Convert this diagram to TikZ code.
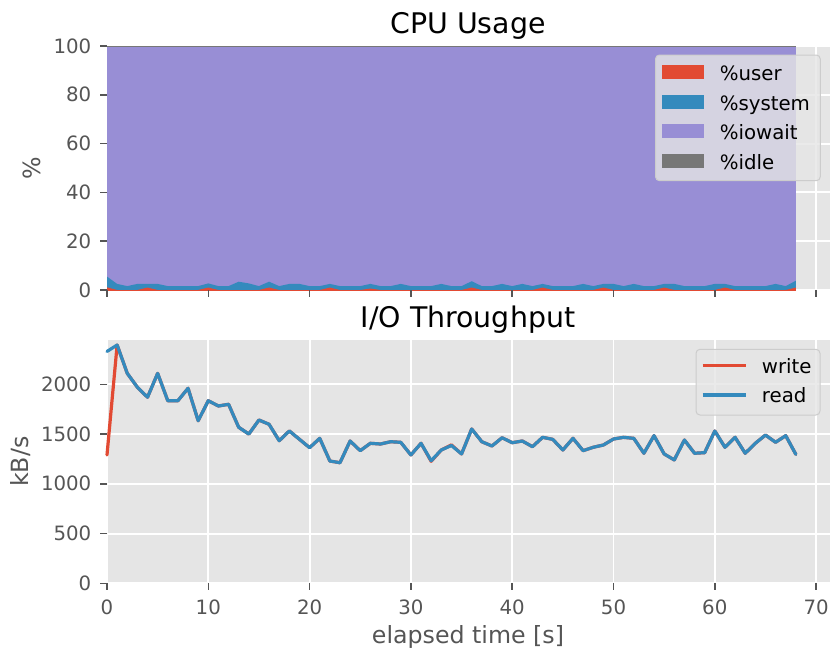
\documentclass[tikz,border=0pt]{standalone}
\usepackage{fontspec}
\setmainfont{DejaVu Sans}
\definecolor{panel}{HTML}{E5E5E5}
\definecolor{tickgray}{HTML}{555555}
\definecolor{cred}{HTML}{E24A33}
\definecolor{cblue}{HTML}{348ABD}
\definecolor{cpurple}{HTML}{988ED5}
\definecolor{cgray}{HTML}{777777}
\definecolor{legedge}{HTML}{CCCCCC}
\tikzset{
  ticklab/.style={font=\fontsize{19.75}{23}\selectfont, text=tickgray, inner sep=0pt},
  axlab/.style={font=\fontsize{23.7}{28}\selectfont, text=tickgray, inner sep=0pt},
  ttl/.style={font=\fontsize{28.4}{33}\selectfont, text=black, inner sep=0pt},
  legtext/.style={font=\fontsize{19.75}{23}\selectfont, text=black, inner sep=0pt, anchor=base west},
  tickmark/.style={draw=tickgray, line width=1.5pt},
  gridline/.style={draw=white, line width=1.9pt},
  legbox/.style={fill=panel, fill opacity=0.8, draw=legedge, line width=1pt, rounded corners=4pt},
  series/.style={line width=3.2pt, line join=round, line cap=round},
}
\begin{document}
\begin{tikzpicture}[x=1pt, y=-1pt]
\useasboundingbox (0,0) rectangle (830,651);

% ---------------- CPU usage panel ----------------
\begin{scope}[shift={(107pt,-290pt)}, x=10.13pt, y=2.44pt]
  \fill[panel] (0,0) rectangle (71.37,100);
  \foreach \x in {0,10,...,70} \draw[gridline] (\x,0) -- (\x,100);
  \foreach \v in {0,20,...,100} \draw[gridline] (0,\v) -- (71.37,\v);
  % stacked areas: %iowait fills up to 100
  \fill[cpurple] (0,0) rectangle (68,100);
  \draw[cgray, line width=0.8pt] (0,100) -- (68,100);
  % %system (cumulative top = user + system)
  \fill[cblue] (0,0) -- (0,5.5) -- (1,2.5) -- (2,1.6) -- (3,2.5) -- (4,2.5) -- (5,2.5)
    -- (6,1.6) -- (7,1.6) -- (8,1.6) -- (9,1.6) -- (10,2.7) -- (11,1.6) -- (12,1.6)
    -- (13,3.4) -- (14,2.7) -- (15,1.6) -- (16,3.4) -- (17,1.6) -- (18,2.5) -- (19,2.5)
    -- (20,1.6) -- (21,1.6) -- (22,2.5) -- (23,1.6) -- (24,1.6) -- (25,1.6) -- (26,2.5)
    -- (27,1.6) -- (28,1.6) -- (29,2.5) -- (30,1.6) -- (31,1.6) -- (32,1.6) -- (33,2.5)
    -- (34,1.6) -- (35,1.6) -- (36,3.6) -- (37,1.6) -- (38,1.6) -- (39,2.5) -- (40,1.6)
    -- (41,2.5) -- (42,1.6) -- (43,2.5) -- (44,1.6) -- (45,1.6) -- (46,1.6) -- (47,2.5)
    -- (48,1.6) -- (49,2.5) -- (50,2.5) -- (51,1.6) -- (52,2.5) -- (53,1.6) -- (54,1.6)
    -- (55,2.5) -- (56,2.5) -- (57,1.6) -- (58,1.6) -- (59,1.6) -- (60,2.5) -- (61,2.5)
    -- (62,1.6) -- (63,1.6) -- (64,1.6) -- (65,1.6) -- (66,2.5) -- (67,1.6) -- (68,3.8)
    -- (68,0) -- cycle;
  % %user
  \fill[cred] (0,0) -- (0,1.1) -- (1,0) -- (3,0) -- (4,1) -- (5,0) -- (9,0) -- (10,1)
    -- (11,0) -- (15,0) -- (16,1) -- (17,0) -- (21,0) -- (22,1) -- (23,0) -- (25,0)
    -- (26,0.6) -- (27,0) -- (35,0) -- (36,1) -- (37,0) -- (42,0) -- (43,1) -- (44,0)
    -- (48,0) -- (49,1) -- (50,0) -- (54,0) -- (55,1) -- (56,0) -- (60,0) -- (61,1)
    -- (62,0) -- (67,0) -- (68,1) -- (68,0) -- cycle;
  \draw[cred, line width=0.8pt] (0,0) -- (68,0);
  % ticks and labels
  \foreach \v in {0,20,...,100} {
    \draw[tickmark] (0,\v) -- ++(-7pt,0);
    \node[ticklab, anchor=east] (cpuy\v) at ([xshift=-15.5pt]0,\v) {\v};
  }
  \foreach \x in {0,10,...,70} \draw[tickmark] (\x,0) -- ++(0,-7pt);
\end{scope}
\node[axlab, rotate=90] (cpulabel) at (31.5,168) {\%};
\node[ttl, anchor=base] (cputitle) at (468,33.3) {CPU Usage};

% legend of the CPU panel
\draw[legbox] (655.5,55) rectangle (820.3,180.7);
\fill[cred] (662.4,64.7) rectangle (703.8,78.7);
\fill[cblue] (662.4,94.7) rectangle (703.8,108.7);
\fill[cpurple] (662.4,124.3) rectangle (703.8,138.3);
\fill[cgray] (662.4,154) rectangle (703.8,168);
\node[legtext] (lguser) at (719.6,80) {\%user};
\node[legtext] (lgsys) at (719.6,110) {\%system};
\node[legtext] (lgio) at (719.6,139.6) {\%iowait};
\node[legtext] (lgidle) at (719.6,169.3) {\%idle};

% ---------------- I/O throughput panel ----------------
\begin{scope}[shift={(107pt,-583.3pt)}, x=10.13pt, y=0.0995pt]
  \fill[panel] (0,0) rectangle (71.37,2445);
  \foreach \x in {0,10,...,70} \draw[gridline] (\x,0) -- (\x,2445);
  \foreach \v in {0,500,...,2000} \draw[gridline] (0,\v) -- (71.37,\v);
  % write
  \draw[series, cred] (0,1290) -- (1,2395) -- (2,2110) -- (3,1970) -- (4,1870) -- (5,2110)
    -- (6,1835) -- (7,1835) -- (8,1960) -- (9,1634) -- (10,1835) -- (11,1782) -- (12,1799)
    -- (13,1568) -- (14,1500) -- (15,1641) -- (16,1598) -- (17,1433) -- (18,1531) -- (19,1447)
    -- (20,1363) -- (21,1457) -- (22,1229) -- (23,1212) -- (24,1430) -- (25,1333) -- (26,1407)
    -- (27,1400) -- (28,1423) -- (29,1417) -- (30,1290) -- (31,1407) -- (32,1226) -- (33,1340)
    -- (34,1391) -- (35,1300) -- (36,1551) -- (37,1423) -- (38,1380) -- (39,1463) -- (40,1413)
    -- (41,1430) -- (42,1373) -- (43,1467) -- (44,1447) -- (45,1340) -- (46,1457) -- (47,1333)
    -- (48,1367) -- (49,1390) -- (50,1450) -- (51,1467) -- (52,1457) -- (53,1307) -- (54,1484)
    -- (55,1300) -- (56,1240) -- (57,1440) -- (58,1307) -- (59,1313) -- (60,1531) -- (61,1367)
    -- (62,1467) -- (63,1307) -- (64,1407) -- (65,1490) -- (66,1417) -- (67,1484) -- (68,1296);
  % read
  \draw[series, cblue] (0,2330) -- (1,2395) -- (2,2110) -- (3,1970) -- (4,1870) -- (5,2110)
    -- (6,1835) -- (7,1835) -- (8,1960) -- (9,1634) -- (10,1835) -- (11,1782) -- (12,1799)
    -- (13,1568) -- (14,1500) -- (15,1641) -- (16,1598) -- (17,1433) -- (18,1531) -- (19,1447)
    -- (20,1363) -- (21,1457) -- (22,1229) -- (23,1212) -- (24,1430) -- (25,1333) -- (26,1407)
    -- (27,1400) -- (28,1423) -- (29,1417) -- (30,1290) -- (31,1407) -- (32,1232) -- (33,1340)
    -- (34,1385) -- (35,1300) -- (36,1551) -- (37,1423) -- (38,1380) -- (39,1463) -- (40,1413)
    -- (41,1430) -- (42,1373) -- (43,1467) -- (44,1447) -- (45,1340) -- (46,1457) -- (47,1333)
    -- (48,1367) -- (49,1390) -- (50,1450) -- (51,1467) -- (52,1457) -- (53,1307) -- (54,1484)
    -- (55,1300) -- (56,1240) -- (57,1440) -- (58,1307) -- (59,1313) -- (60,1531) -- (61,1367)
    -- (62,1467) -- (63,1307) -- (64,1407) -- (65,1490) -- (66,1417) -- (67,1484) -- (68,1296);
  % ticks and labels
  \foreach \v in {0,500,...,2000} {
    \draw[tickmark] (0,\v) -- ++(-7pt,0);
    \node[ticklab, anchor=east] (ioy\v) at ([xshift=-15.5pt]0,\v) {\v};
  }
  \foreach \x in {0,10,...,70} {
    \draw[tickmark] (\x,0) -- ++(0,-7pt);
    \node[ticklab, anchor=base] (iox\x) at ([yshift=-31pt]\x,0) {\x};
  }
\end{scope}
\node[axlab, rotate=90] (iolabel) at (21,461.7) {kB/s};
\node[axlab, anchor=base] (xlabel) at (468,643) {elapsed time [s]};
\node[ttl, anchor=base] (iotitle) at (468,327.3) {I/O Throughput};

% legend of the I/O panel
\draw[legbox] (696,349.3) rectangle (820,415);
\coordinate (wa) at (702.7,365.7);
\coordinate (wb) at (746,365.7);
\coordinate (ra) at (702.7,395);
\coordinate (rb) at (746,395);
\draw[series, cred, line cap=butt] (wa) -- (wb);
\draw[series, cblue, line cap=butt] (ra) -- (rb);
\node[legtext] (lgwrite) at (761.7,373.4) {write};
\node[legtext] (lgread) at (761.7,402.7) {read};
\end{tikzpicture}
\end{document}
